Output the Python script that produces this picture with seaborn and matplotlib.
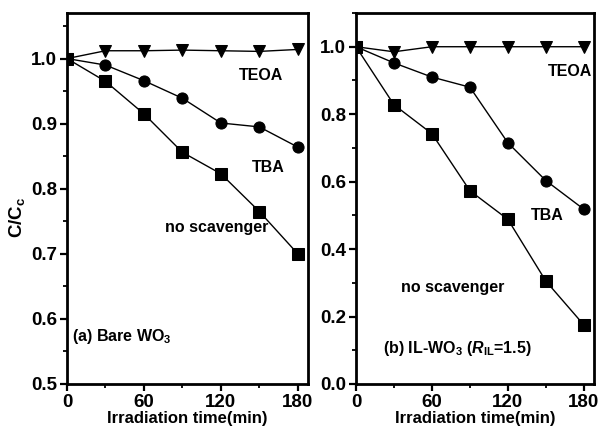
import numpy as np
import pandas as pd
import matplotlib
matplotlib.use("Agg")
import matplotlib.pyplot as plt
from matplotlib.ticker import MultipleLocator, FormatStrFormatter
import seaborn as sns

# irradiation time (min)
time = [0, 30, 60, 90, 120, 150, 180]

# (a) bare WO3
a_teoa = [1.0, 1.012, 1.012, 1.013, 1.012, 1.011, 1.014]
a_tba = [1.0, 0.990, 0.966, 0.939, 0.901, 0.895, 0.864]
a_none = [1.0, 0.965, 0.915, 0.856, 0.823, 0.765, 0.700]

# (b) IL-WO3
b_teoa = [1.0, 0.985, 1.0, 1.0, 1.0, 1.0, 1.0]
b_tba = [1.0, 0.952, 0.910, 0.880, 0.715, 0.603, 0.518]
b_none = [1.0, 0.828, 0.742, 0.573, 0.488, 0.305, 0.175]

sns.set_style("ticks")
plt.rcParams['font.family'] = ['Liberation Sans', 'DejaVu Sans']
plt.rcParams['font.weight'] = 'bold'
plt.rcParams['mathtext.fontset'] = 'custom'
plt.rcParams['mathtext.rm'] = 'Liberation Sans:bold'
plt.rcParams['mathtext.it'] = 'Liberation Sans:bold:italic'
plt.rcParams['mathtext.bf'] = 'Liberation Sans:bold'
plt.rcParams['mathtext.default'] = 'rm'
plt.rcParams['text.color'] = 'black'
plt.rcParams['axes.labelcolor'] = 'black'
plt.rcParams['xtick.color'] = 'black'
plt.rcParams['ytick.color'] = 'black'
plt.rcParams['axes.edgecolor'] = 'black'

fig = plt.figure(figsize=(6, 4.29), dpi=100)
ax1 = fig.add_axes([0.1117, 0.1049, 0.4017, 0.8648])
ax2 = fig.add_axes([0.5933, 0.1049, 0.3967, 0.8648])

markers = {'none': 's', 'tba': 'o', 'teoa': 'v'}

for ax, sets in [(ax1, [a_none, a_tba, a_teoa]), (ax2, [b_none, b_tba, b_teoa])]:
    for key, vals in zip(['none', 'tba', 'teoa'], sets):
        df = pd.DataFrame({'t': time, 'c': vals})
        sns.lineplot(data=df, x='t', y='c', ax=ax, color='black', lw=1.0,
                     marker=markers[key], markersize=8, markeredgecolor='black',
                     markerfacecolor='black')
    ax.set_xlim(0, 188)
    ax.set_xticks([0, 60, 120, 180])
    ax.xaxis.set_minor_locator(MultipleLocator(30))
    ax.set_xlabel('Irradiation time(min)', fontsize=12, fontweight='bold', labelpad=0)
    ax.set_ylabel('')
    for s in ax.spines.values():
        s.set_visible(True)
        s.set_linewidth(2)
        s.set_color('black')
    ax.tick_params(which='major', direction='out', length=5, width=1.6, labelsize=13.5, pad=2)
    ax.tick_params(which='minor', direction='out', length=3, width=1.3)

ax1.set_ylim(0.5, 1.07)
ax1.set_yticks([0.5, 0.6, 0.7, 0.8, 0.9, 1.0])
ax1.yaxis.set_minor_locator(MultipleLocator(0.05))
ax1.set_ylabel('C/C$_c$', fontsize=13.5, fontweight='bold')
ax1.yaxis.set_label_coords(-0.165, 0.45)

ax2.set_ylim(0, 1.1)
ax2.set_yticks([0.0, 0.2, 0.4, 0.6, 0.8, 1.0])
ax2.yaxis.set_minor_locator(MultipleLocator(0.1))

for ax in (ax1, ax2):
    ax.yaxis.set_major_formatter(FormatStrFormatter('%.1f'))
    for lab in ax.get_xticklabels() + ax.get_yticklabels():
        lab.set_fontweight('bold')

kw = dict(fontsize=11.5, fontweight='bold', ha='center', va='center')
ax1.text(151, 0.974, 'TEOA', **kw)
ax1.text(157, 0.833, 'TBA', **kw)
ax1.text(117, 0.740, 'no scavenger', **kw)
ax1.text(4, 0.573, '(a) Bare WO$_3$', fontsize=11.5, fontweight='bold', ha='left', va='center')

ax2.text(169, 0.926, 'TEOA', **kw)
ax2.text(151, 0.50, 'TBA', **kw)
ax2.text(76, 0.286, 'no scavenger', **kw)
ax2.text(21, 0.104, '(b) IL-WO$_3$ ($\\mathit{R}_{IL}$=1.5)', fontsize=11.5,
         fontweight='bold', ha='left', va='center')

fig.savefig('out.png', dpi=100)
